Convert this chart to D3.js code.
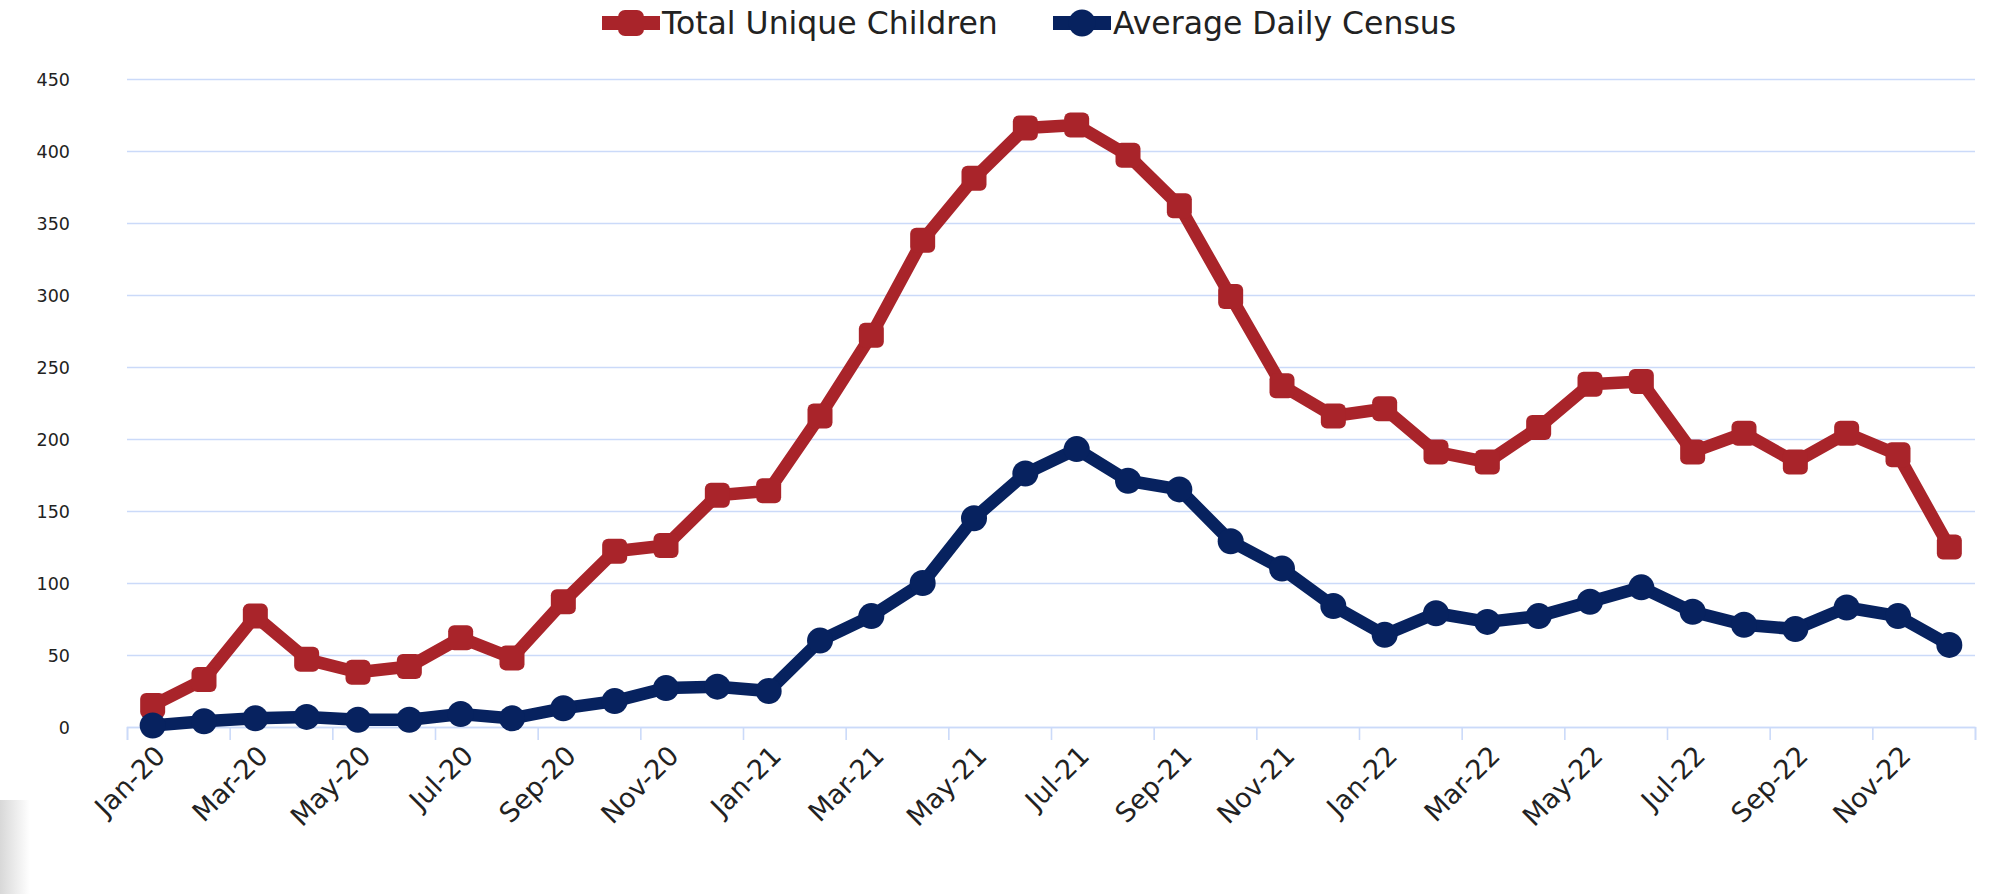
<html>
<meta charset="utf-8">

<script src="https://d3js.org/d3.v7.min.js"></script>

<body style="margin:0; background:#fff">
<div id="my_dataviz"></div>

<script>
let width = 1989,
    height = 894

// chart values
let months = ["Jan-20", "Feb-20", "Mar-20", "Apr-20", "May-20", "Jun-20", "Jul-20", "Aug-20", "Sep-20", "Oct-20", "Nov-20", "Dec-20",
              "Jan-21", "Feb-21", "Mar-21", "Apr-21", "May-21", "Jun-21", "Jul-21", "Aug-21", "Sep-21", "Oct-21", "Nov-21", "Dec-21",
              "Jan-22", "Feb-22", "Mar-22", "Apr-22", "May-22", "Jun-22", "Jul-22", "Aug-22", "Sep-22", "Oct-22", "Nov-22", "Dec-22"]
let totalUnique = [15, 33, 77, 47, 38, 42, 62, 48, 87, 122, 126, 161,
                   164, 216, 272, 338, 381, 416, 418, 397, 362, 299, 237, 216,
                   221, 191, 184, 208, 238, 240, 191, 204, 184, 204, 189, 125]
let dailyCensus = [1, 4, 6, 7, 5, 5, 9, 6, 13, 18, 27, 28,
                   25, 60, 77, 100, 145, 176, 193, 171, 165, 129, 110, 84,
                   64, 79, 73, 77, 87, 97, 80, 71, 68, 83, 77, 57]
let yTicks = [0, 50, 100, 150, 200, 250, 300, 350, 400, 450]
let seriesNames = ["Total Unique Children", "Average Daily Census"]

let red = "#a9242a",
    navy = "#07225f",
    grid = "#cbdaf9"

let plotLeft = 127, plotRight = 1975, plotTop = 79, plotBottom = 727

let svg = d3.select("#my_dataviz")
  .append("svg")
    .attr("width", width)
    .attr("height", height)
    .style("display", "block")

// faint page shadow, bottom left
let grad = svg.append("defs").append("linearGradient").attr("id", "shade")
grad.append("stop").attr("offset", "0%").attr("stop-color", "#d8d8d8")
grad.append("stop").attr("offset", "100%").attr("stop-color", "#fff")
svg.append("rect").attr("x", 0).attr("y", 800).attr("width", 30).attr("height", 94).attr("fill", "url(#shade)")

let x = d3.scaleBand()
  .domain(months)
  .range([plotLeft, plotRight])
  .padding(0)

let y = d3.scaleLinear()
  .domain([0, 450])
  .range([plotBottom, plotTop])

let cx = function(i) { return x(months[i]) + x.bandwidth() / 2 }

// horizontal grid + y labels
let yAxis = svg.append("g")
  .attr("transform", "translate(" + plotLeft + ",0)")
  .call(d3.axisLeft(y).tickValues(yTicks).tickSize(-(plotRight - plotLeft)))
yAxis.select(".domain").remove()
yAxis.selectAll(".tick line").attr("stroke", grid).attr("stroke-width", 1.6)
yAxis.selectAll(".tick text")
  .attr("x", -57)
  .attr("fill", "#222")
  .attr("font-family", "DejaVu Sans")
  .attr("font-size", "17.5px")
  .attr("dy", "0.35em")

// x axis: ticks on category boundaries, every second month
let xb = d3.scaleLinear().domain([0, months.length]).range([plotLeft, plotRight])
let xAxis = svg.append("g")
  .attr("transform", "translate(0," + plotBottom + ")")
  .call(d3.axisBottom(xb).tickValues(d3.range(0, months.length + 1, 2)).tickSize(13).tickFormat(""))
xAxis.select(".domain").attr("stroke", grid).attr("stroke-width", 1.6)
xAxis.selectAll(".tick line").attr("stroke", grid).attr("stroke-width", 1.6)

svg.append("g").selectAll("text")
  .data(months.filter(function(d, i) { return i % 2 == 0 }))
  .enter()
  .append("text")
    .attr("transform", function(d) { return "translate(" + (x(d) + x.bandwidth() / 2) + "," + 743 + ") rotate(-45)" })
    .attr("text-anchor", "end")
    .attr("dy", "0.75em")
    .attr("font-family", "DejaVu Sans")
    .attr("font-size", "27px")
    .attr("fill", "#222")
    .text(function(d) { return d })

let line = d3.line()
  .x(function(d, i) { return cx(i) })
  .y(function(d) { return y(d) })

// red series
svg.append("path")
  .datum(totalUnique)
  .attr("fill", "none")
  .attr("stroke", red)
  .attr("stroke-width", 12.5)
  .attr("stroke-linejoin", "round")
  .attr("d", line)
svg.append("g").selectAll("rect")
  .data(totalUnique)
  .enter()
  .append("rect")
    .attr("x", function(d, i) { return cx(i) - 12.5 })
    .attr("y", function(d) { return y(d) - 12.5 })
    .attr("width", 25)
    .attr("height", 25)
    .attr("rx", 6)
    .attr("fill", red)

// navy series
svg.append("path")
  .datum(dailyCensus)
  .attr("fill", "none")
  .attr("stroke", navy)
  .attr("stroke-width", 12.5)
  .attr("stroke-linejoin", "round")
  .attr("d", line)
svg.append("g").selectAll("circle")
  .data(dailyCensus)
  .enter()
  .append("circle")
    .attr("cx", function(d, i) { return cx(i) })
    .attr("cy", function(d) { return y(d) })
    .attr("r", 13)
    .attr("fill", navy)

// legend
let legend = svg.append("g")
let items = [{name: seriesNames[0], color: red, x0: 602, shape: "square"},
             {name: seriesNames[1], color: navy, x0: 1053, shape: "circle"}]
items.forEach(function(it) {
  let g = legend.append("g").attr("transform", "translate(" + it.x0 + ",23)")
  g.append("line").attr("x1", 0).attr("x2", 58).attr("stroke", it.color).attr("stroke-width", 14)
  if (it.shape == "square") {
    g.append("rect").attr("x", 16).attr("y", -13).attr("width", 26).attr("height", 26).attr("rx", 7).attr("fill", it.color)
  } else {
    g.append("circle").attr("cx", 29).attr("r", 13.5).attr("fill", it.color)
  }
  g.append("text")
    .attr("x", 60)
    .attr("dy", "0.36em")
    .attr("font-family", "DejaVu Sans")
    .attr("font-size", "31.5px")
    .attr("fill", "#222")
    .text(it.name)
})
</script>
</body>
</html>
